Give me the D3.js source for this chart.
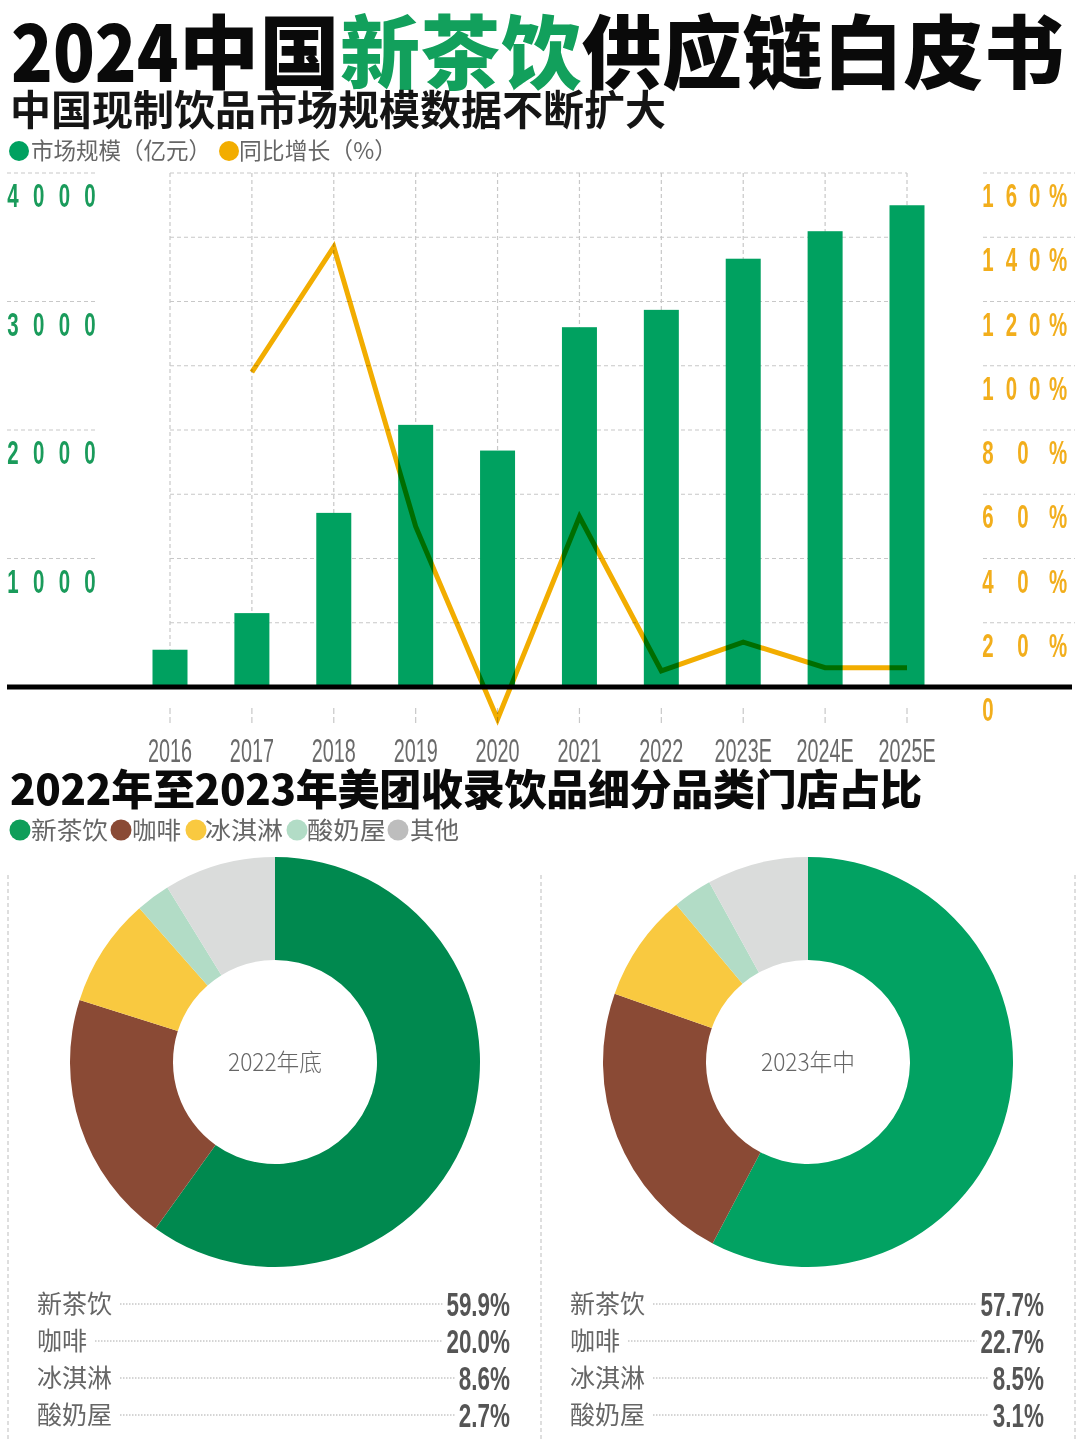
<!DOCTYPE html>
<html><head><meta charset="utf-8">
<script src="https://cdn.jsdelivr.net/npm/d3@7"></script>
<style>body{margin:0;background:#fff}svg{display:block}</style>
</head><body>
<svg id="c" width="1080" height="1440"></svg>
<script>
// ---------- data ----------
const years = ["2016","2017","2018","2019","2020","2021","2022","2023E","2024E","2025E"];
const marketSize = [290, 575, 1355, 2040, 1840, 2800, 2935, 3333, 3547, 3749];
const growthYears = ["2017","2018","2019","2020","2021","2022","2023E","2024E","2025E"];
const growth = [98, 137, 50, -10, 53, 5, 14, 6, 6];
const leftTicks = [1000, 2000, 3000, 4000];
const leftTickLabels = ["1000","2000","3000","4000"];
const rightTicks = [0, 20, 40, 60, 80, 100, 120, 140, 160];
const rightTickLabels = ["0","20%","40%","60%","80%","100%","120%","140%","160%"];
const legend1 = ["市场规模（亿元）","同比增长（%）"];
const shareCategories = ["新茶饮","咖啡","冰淇淋","酸奶屋","其他"];
const share2022 = [59.9, 20.0, 8.6, 2.7, 8.8];
const share2023 = [57.7, 22.7, 8.5, 3.1, 8.0];
const shareLabels2022 = ["59.9%","20.0%","8.6%","2.7%"];
const shareLabels2023 = ["57.7%","22.7%","8.5%","3.1%"];
const donutTitles = ["2022年底","2023年中"];

// ---------- style ----------
const CJK = "'Noto Sans CJK SC','Noto Sans',sans-serif";
const NUM = "'Liberation Sans','DejaVu Sans',sans-serif";
const GREEN = "#00A160", ORANGE = "#F2AD00";
const catColors2022 = ["#00894F","#8A4A35","#F9C940","#B2DCC6","#DADCDB"];
const catColors2023 = ["#02A262","#8A4A35","#F9C940","#B2DCC6","#DADCDB"];

const svg = d3.select("#c");
svg.append("rect").attr("width",1080).attr("height",1440).attr("fill","#fff");

// condensed text via horizontal scale
function condText(parent, str, x, y, opts){
  const g = parent.append("g").attr("transform",`translate(${x},${y}) scale(${opts.sx},1)`);
  return g.append("text").attr("text-anchor",opts.anchor||"start")
    .attr("font-family",opts.family||NUM).attr("font-size",opts.size).attr("font-weight",opts.weight||400)
    .attr("fill",opts.fill).text(str);
}
// characters spread evenly between two centre positions
function spreadText(parent, str, x0, x1, y, opts){
  const chars = [...str];
  const n = chars.length;
  chars.forEach((ch,i)=>{
    const cx = n===1 ? x0 : x0 + (x1-x0)*i/(n-1);
    condText(parent, ch, cx, y, Object.assign({anchor:"middle"}, opts));
  });
}

// ---------- titles ----------
condText(svg, "2024", 11, 82, {size:80, weight:900, fill:"#0a0a0a", sx:0.86, family:CJK});
const t = svg.append("text").attr("x",179).attr("y",82)
  .attr("font-family",CJK).attr("font-weight",900).attr("font-size",80)
  .attr("letter-spacing",0.5);
t.append("tspan").attr("fill","#0a0a0a").text("中国");
t.append("tspan").attr("fill","#12A05C").text("新茶饮");
t.append("tspan").attr("fill","#0a0a0a").text("供应链白皮书");

svg.append("text").attr("x",10).attr("y",125)
  .attr("font-family",CJK).attr("font-weight",700).attr("font-size",41)
  .attr("fill","#151515")
  .text("中国现制饮品市场规模数据不断扩大");

// legend 1
const lg1 = [{c:GREEN,x:19,tx:31,w:180},{c:ORANGE,x:229,tx:239,w:158}];
lg1.forEach((d,i)=>{
  svg.append("circle").attr("cx",d.x).attr("cy",151).attr("r",10).attr("fill",d.c);
  svg.append("text").attr("x",d.tx).attr("y",159).attr("font-family",CJK)
    .attr("font-size",23).attr("fill","#666").attr("textLength",d.w).attr("lengthAdjust","spacingAndGlyphs")
    .text(legend1[i]);
});

// ---------- bar/line chart ----------
const yTop = 173, yBase = 687;
const x = d3.scalePoint().domain(years).range([170, 907]);
const yL = d3.scaleLinear().domain([0,4000]).range([yBase,yTop]);
const yR = d3.scaleLinear().domain([0,160]).range([yBase,yTop]);
const grid = svg.append("g").attr("stroke","#c8c8c8").attr("stroke-width",1.2).attr("stroke-dasharray","4,3").attr("fill","none");

rightTicks.filter(v=>v>0).forEach(v=>{
  grid.append("line").attr("x1",x(years[0])).attr("x2",x(years[years.length-1])).attr("y1",yR(v)).attr("y2",yR(v));
  grid.append("line").attr("x1",983).attr("x2",1075).attr("y1",yR(v)).attr("y2",yR(v));
});
leftTicks.forEach(v=>{
  grid.append("line").attr("x1",7).attr("x2",97).attr("y1",yL(v)).attr("y2",yL(v));
});
years.forEach(yr=>{
  grid.append("line").attr("x1",x(yr)).attr("x2",x(yr)).attr("y1",yTop).attr("y2",yBase);
  grid.append("line").attr("x1",x(yr)).attr("x2",x(yr)).attr("y1",708).attr("y2",723).attr("stroke-dasharray","6,3");
});

// bars
svg.append("g").selectAll("rect").data(years).join("rect")
  .attr("x",d=>x(d)-17.5).attr("width",35)
  .attr("y",(d,i)=>yL(marketSize[i])).attr("height",(d,i)=>yBase-yL(marketSize[i]))
  .attr("fill",GREEN);

// line (multiply blend → dark green over bars)
const line = d3.line().x(d=>x(d[0])).y(d=>yR(d[1]));
svg.append("path").datum(growthYears.map((g,i)=>[g,growth[i]]))
  .attr("d",line).attr("fill","none").attr("stroke",ORANGE).attr("stroke-width",5)
  .attr("stroke-linejoin","miter").style("mix-blend-mode","multiply");

// baseline
svg.append("line").attr("x1",7).attr("x2",1072).attr("y1",yBase).attr("y2",yBase)
  .attr("stroke","#000").attr("stroke-width",5);

// left axis labels
leftTicks.forEach((v,i)=>{
  spreadText(svg, leftTickLabels[i], 13, 90, yL(v)+34, {size:33, weight:700, fill:"#1A9B5B", sx:0.62});
});
// right axis labels
rightTicks.forEach((v,i)=>{
  spreadText(svg, rightTickLabels[i], 988, 1058, yR(v)+34, {size:33, weight:700, fill:"#F2AE1C", sx:0.62});
});
// x labels
years.forEach(yr=>{
  condText(svg, yr, x(yr), 762, {anchor:"middle", size:33, weight:400, fill:"#6a6a6a", sx:0.6});
});

// ---------- second section ----------
svg.append("text").attr("x",10).attr("y",805)
  .attr("font-family",CJK).attr("font-weight",900).attr("font-size",42)
  .attr("fill","#0a0a0a").attr("textLength",912).attr("lengthAdjust","spacing")
  .text("2022年至2023年美团收录饮品细分品类门店占比");

const lg2 = [{x:20,tx:31,w:77},{x:121,tx:132,w:49},{x:196,tx:205,w:78},{x:297,tx:307,w:79},{x:398,tx:410,w:49}];
const lgColors = ["#0E9E5A","#8A4A35","#F9C940","#B2DCC6","#BDBDBD"];
shareCategories.forEach((c,i)=>{
  svg.append("circle").attr("cx",lg2[i].x).attr("cy",830).attr("r",10.5).attr("fill",lgColors[i]);
  svg.append("text").attr("x",lg2[i].tx).attr("y",839).attr("font-family",CJK).attr("font-size",24)
    .attr("fill","#666").attr("textLength",lg2[i].w).attr("lengthAdjust","spacingAndGlyphs").text(c);
});

// panel dashed borders
[8,541,1075].forEach(xx=>{
  svg.append("line").attr("x1",xx).attr("x2",xx).attr("y1",875).attr("y2",1440)
    .attr("stroke","#c8c8c8").attr("stroke-width",1.2).attr("stroke-dasharray","4,3");
});

const pie = d3.pie().sort(null).value(d=>d);
const arc = d3.arc().innerRadius(102).outerRadius(205);
const panels = [
  {cx:275, vals:share2022, cols:catColors2022, labels:shareLabels2022, title:donutTitles[0], lx:37, vx:510},
  {cx:808, vals:share2023, cols:catColors2023, labels:shareLabels2023, title:donutTitles[1], lx:570, vx:1044}
];
const rowY = [1304, 1341, 1378, 1415];
panels.forEach(p=>{
  const g = svg.append("g").attr("transform",`translate(${p.cx},1062)`);
  g.selectAll("path").data(pie(p.vals)).join("path").attr("d",arc).attr("fill",(d,i)=>p.cols[i]);
  g.append("text").attr("y",9).attr("text-anchor","middle").attr("font-family",CJK).attr("font-weight",300)
    .attr("font-size",24).attr("fill","#666").attr("textLength",94).attr("lengthAdjust","spacingAndGlyphs").text(p.title);
  p.labels.forEach((lab,i)=>{
    const name = shareCategories[i];
    const nameW = name.length*25;
    svg.append("text").attr("x",p.lx).attr("y",rowY[i]+9).attr("font-family",CJK).attr("font-size",25)
      .attr("fill","#666").text(name);
    const vt = condText(svg, lab, p.vx, rowY[i]+12, {anchor:"end", size:33, weight:700, fill:"#555", sx:0.68});
    const vw = vt.node().getComputedTextLength()*0.68;
    svg.append("line").attr("x1",p.lx+nameW+8).attr("x2",p.vx-vw-4).attr("y1",rowY[i]).attr("y2",rowY[i])
      .attr("stroke","#aaa").attr("stroke-width",1).attr("stroke-dasharray","1.5,1.5");
  });
});
</script>
</body></html>
